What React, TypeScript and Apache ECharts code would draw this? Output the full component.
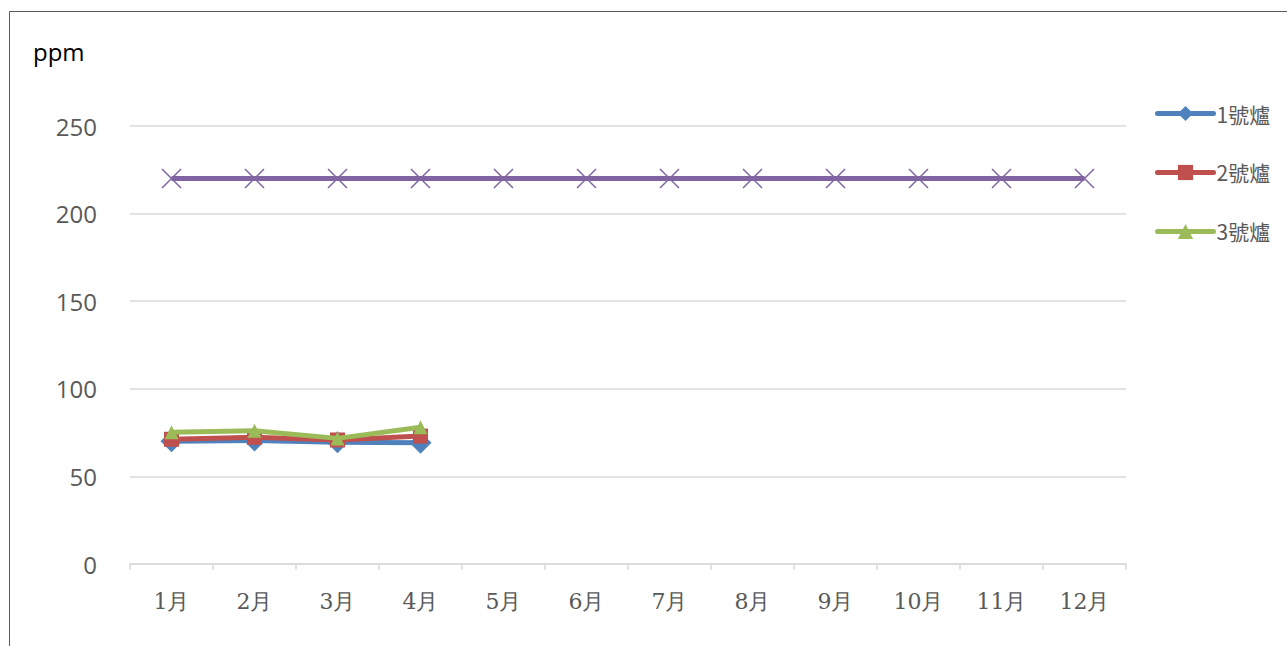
import React, { useEffect, useRef } from "react";
import * as echarts from "echarts";

const months = ["1月", "2月", "3月", "4月", "5月", "6月", "7月", "8月", "9月", "10月", "11月", "12月"];
const furnace1 = [70, 70.5, 69.5, 69.2];
const furnace2 = [71.2, 72.3, 70.8, 73];
const furnace3 = [75.2, 76.1, 71.7, 78];
const limit = [220, 220, 220, 220, 220, 220, 220, 220, 220, 220, 220, 220];
const yTicks = { min: 0, max: 250, interval: 50 };

const crossPath = "path://M0,0 L10,10 M10,0 L0,10";

export default function App() {
  const ref = useRef<HTMLDivElement>(null);
  useEffect(() => {
    const chart = echarts.init(ref.current!, undefined, { renderer: "svg" });
    chart.setOption({
      animation: false,
      backgroundColor: "#ffffff",
      graphic: [
        {
          type: "rect",
          shape: { x: 9.5, y: 11.5, width: 1300, height: 700 },
          style: { fill: "none", stroke: "#595959", lineWidth: 1 },
          silent: true,
        },
        {
          type: "text",
          left: 33,
          top: 39,
          style: { text: "ppm", fill: "#000000", font: "24px 'Open Sans', sans-serif" },
        },
      ],
      grid: { left: 130, right: 161, top: 126, bottom: 82, containLabel: false },
      legend: {
        orient: "vertical",
        left: 1150,
        top: 98,
        itemWidth: 56,
        itemHeight: 19,
        itemGap: 38,
        data: ["1號爐", "2號爐", "3號爐"],
        lineStyle: { width: 5, cap: "round" },
        textStyle: { color: "#595959", fontSize: 21, fontFamily: "'Noto Sans CJK TC', sans-serif", padding: [0, 0, 0, -2] },
      },
      xAxis: {
        type: "category",
        data: months,
        boundaryGap: true,
        axisLine: { lineStyle: { color: "#d9d9d9", width: 1.5 } },
        axisTick: { show: true, length: 6, lineStyle: { color: "#d9d9d9", width: 1.5 } },
        axisLabel: { color: "#595959", fontSize: 22, fontFamily: "'DejaVu Serif', serif", margin: 26 },
      },
      yAxis: {
        type: "value",
        min: yTicks.min,
        max: yTicks.max,
        interval: yTicks.interval,
        axisLine: { show: false },
        axisTick: { show: false },
        splitLine: { lineStyle: { color: "#d9d9d9", width: 1.5 } },
        axisLabel: { color: "#595959", fontSize: 24, fontFamily: "'Open Sans', sans-serif", margin: 33 },
      },
      series: [
        {
          name: "1號爐",
          type: "line",
          data: furnace1,
          symbol: "diamond",
          symbolSize: 22,
          color: "#4F81BD",
          lineStyle: { width: 5, color: "#4F81BD" },
          itemStyle: { color: "#4F81BD" },
          z: 3,
        },
        {
          name: "2號爐",
          type: "line",
          data: furnace2,
          symbol: "rect",
          symbolSize: 15,
          color: "#C0504D",
          lineStyle: { width: 5, color: "#C0504D" },
          itemStyle: { color: "#C0504D" },
          z: 4,
        },
        {
          name: "3號爐",
          type: "line",
          data: furnace3,
          symbol: "triangle",
          symbolSize: 14,
          color: "#9BBB59",
          lineStyle: { width: 5, color: "#9BBB59" },
          itemStyle: { color: "#9BBB59" },
          z: 5,
        },
        {
          name: "管制值",
          type: "line",
          data: limit,
          symbol: crossPath,
          symbolSize: 19,
          color: "#8064A2",
          lineStyle: { width: 5, color: "#8064A2" },
          itemStyle: { color: "rgba(0,0,0,0)", borderColor: "#8064A2", borderWidth: 1.5 },
          z: 2,
        },
      ],
    });
    return () => chart.dispose();
  }, []);
  return (
    <div
      ref={ref}
      style={{ width: 1287, height: 646, position: "absolute", left: 0, top: 0 }}
    />
  );
}
